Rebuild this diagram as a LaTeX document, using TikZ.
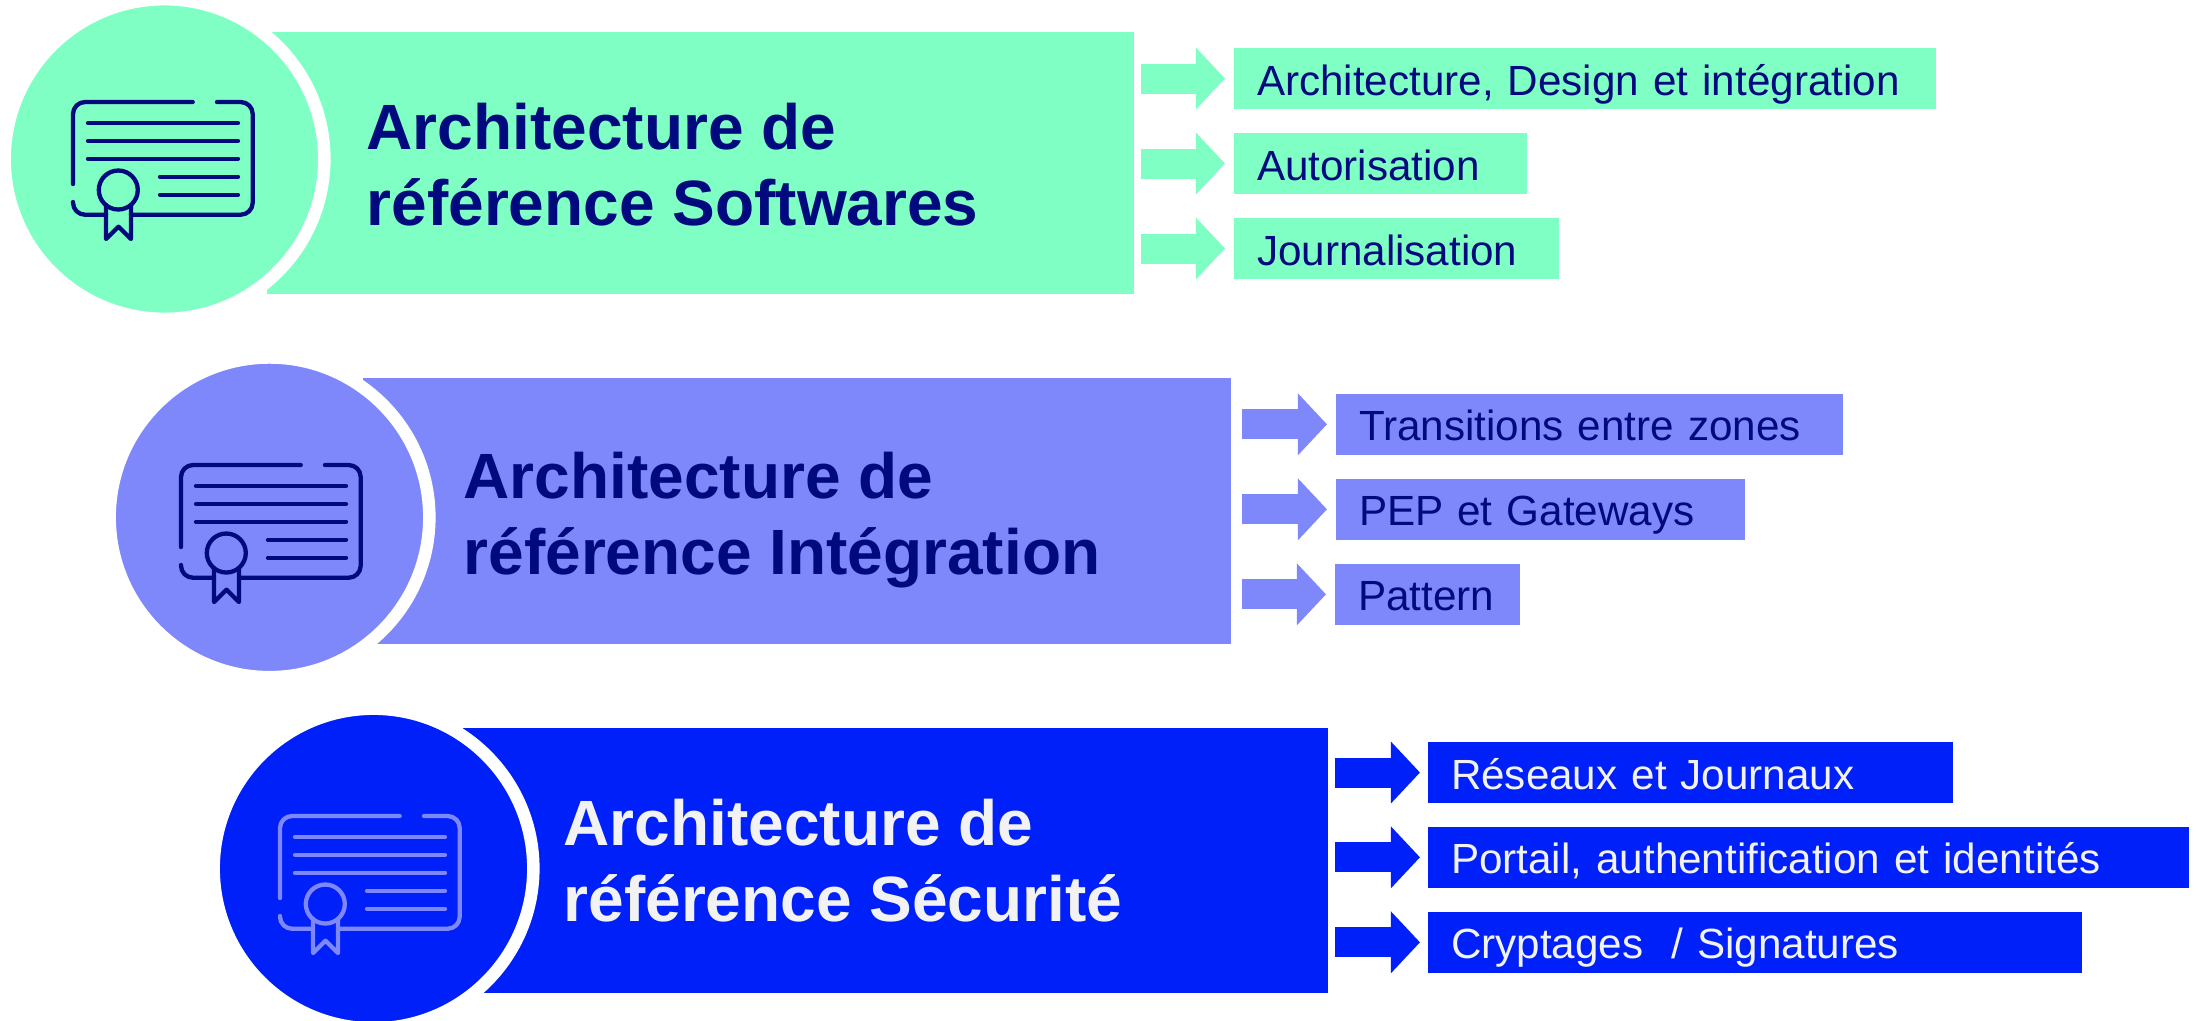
\documentclass[tikz,border=0pt]{standalone}
\usepackage{fontspec}
\setmainfont{Liberation Sans}
\usetikzlibrary{arrows.meta}
\definecolor{softgreen}{HTML}{7FFFC4}
\definecolor{midblue}{HTML}{7F88FA}
\definecolor{deepblue}{HTML}{0020FA}
\definecolor{navyink}{HTML}{00097D}
\definecolor{paleink}{HTML}{F2F2F2}
\tikzset{
    blockrect/.style={anchor=north west, inner sep=0pt, outer sep=0pt},
    blockdisc/.style={circle, inner sep=0pt, outer sep=0pt, minimum size=3.195cm, draw=white, line width=0.125cm},
    blocktitle/.style={anchor=west, align=left, inner sep=0pt, font=\fontsize{18.2}{21.6}\selectfont\bfseries},
    itembox/.style={anchor=west, inner sep=0pt, outer sep=0pt, minimum height=0.61cm, text height=0.38cm, text depth=0.05cm, align=left, font=\fontsize{12}{14}\selectfont},
    blockarrow/.style={line width=0.3cm, -{Triangle[length=0.29cm,width=0.6cm]}, shorten <=0.07cm, shorten >=0.09cm},
    iconline/.style={line width=0.043cm, line cap=round, line join=round}
}
\newcommand{\certicon}[3]{
    \begin{scope}[shift={(#1,#2)}, iconline, draw=#3]
        \draw[rounded corners=0.12cm] (119.7,0) -- (0,0) -- (0,82);
        \draw[rounded corners=0.12cm] (144,0) -- (179.7,0) -- (179.7,112.7) -- (58,112.7);
        \draw[rounded corners=0.12cm] (0,100) -- (0,112.7) -- (33,112.7);
        \draw (15,21) -- (165,21);
        \draw (15,39) -- (165,39);
        \draw (15,56.7) -- (165,56.7);
        \draw (87,74.7) -- (165,74.7);
        \draw (87,92.7) -- (165,92.7);
        \draw (45.3,88) circle (19.5);
        \draw (33,103) -- (33,137) -- (45.5,124.7) -- (58,137) -- (58,103);
    \end{scope}
}
\begin{document}
\begin{tikzpicture}[x=0.01cm, y=-0.01cm]
    \useasboundingbox (0,0) rectangle (2200,1020);

    % softwares
    \node[blockrect, fill=softgreen, minimum width=8.66cm, minimum height=2.62cm] (softrect) at (267,32) {};
    \node[blockdisc, fill=softgreen] (softdisc) at (164.5,159) {};
    \certicon{73}{102}{navyink}
    \node[blocktitle, text=navyink] (softtitle) at (366,165) {Architecture de\\référence Softwares};
    \node[itembox, fill=softgreen, text=navyink, minimum width=7.02cm, text width=6.56cm] (softa) at (1234,78.5) {Architecture, Design et intégration};
    \node[itembox, fill=softgreen, text=navyink, minimum width=2.93cm, text width=2.47cm] (softb) at (1234,163.5) {Autorisation};
    \node[itembox, fill=softgreen, text=navyink, minimum width=3.25cm, text width=2.79cm] (softc) at (1234,248.5) {Journalisation};
    \draw[blockarrow, softgreen] (softrect.east |- softa) -- (softa);
    \draw[blockarrow, softgreen] (softrect.east |- softb) -- (softb);
    \draw[blockarrow, softgreen] (softrect.east |- softc) -- (softc);

    % integration
    \node[blockrect, fill=midblue, minimum width=8.67cm, minimum height=2.657cm] (intrect) at (363,378) {};
    \node[blockdisc, fill=midblue] (intdisc) at (269.5,517.3) {};
    \certicon{181}{465}{navyink}
    \node[blocktitle, text=navyink] (inttitle) at (463,520) {Architecture de\\référence Intégration};
    \node[itembox, fill=midblue, text=navyink, minimum width=5.07cm, text width=4.61cm] (inta) at (1336,424.3) {Transitions entre zones};
    \node[itembox, fill=midblue, text=navyink, minimum width=4.09cm, text width=3.63cm] (intb) at (1336,509.3) {PEP et Gateways};
    \node[itembox, fill=midblue, text=navyink, minimum width=1.85cm, text width=1.39cm] (intc) at (1335,594.3) {Pattern};
    \draw[blockarrow, midblue, shorten <=0.11cm] (intrect.east |- inta) -- (inta);
    \draw[blockarrow, midblue, shorten <=0.11cm] (intrect.east |- intb) -- (intb);
    \draw[blockarrow, midblue, shorten <=0.11cm] (intrect.east |- intc) -- (intc);

    % securite
    \node[blockrect, fill=deepblue, minimum width=8.64cm, minimum height=2.653cm] (secrect) at (463,728) {};
    \node[blockdisc, fill=deepblue] (secdisc) at (373.5,868.5) {};
    \certicon{280}{816}{midblue}
    \node[blocktitle, text=paleink] (sectitle) at (563,861) {Architecture de\\référence Sécurité};
    \node[itembox, fill=deepblue, text=paleink, minimum width=5.25cm, text width=4.79cm] (seca) at (1428,772.5) {Réseaux et Journaux};
    \node[itembox, fill=deepblue, text=paleink, minimum width=7.61cm, text width=7.15cm] (secb) at (1428,857.3) {Portail, authentification et identités};
    \node[itembox, fill=deepblue, text=paleink, minimum width=6.54cm, text width=6.08cm] (secc) at (1428,942.3) {Cryptages \ / Signatures};
    \draw[blockarrow, deepblue, shorten >=0.08cm] (secrect.east |- seca) -- (seca);
    \draw[blockarrow, deepblue, shorten >=0.08cm] (secrect.east |- secb) -- (secb);
    \draw[blockarrow, deepblue, shorten >=0.08cm] (secrect.east |- secc) -- (secc);
\end{tikzpicture}
\end{document}
